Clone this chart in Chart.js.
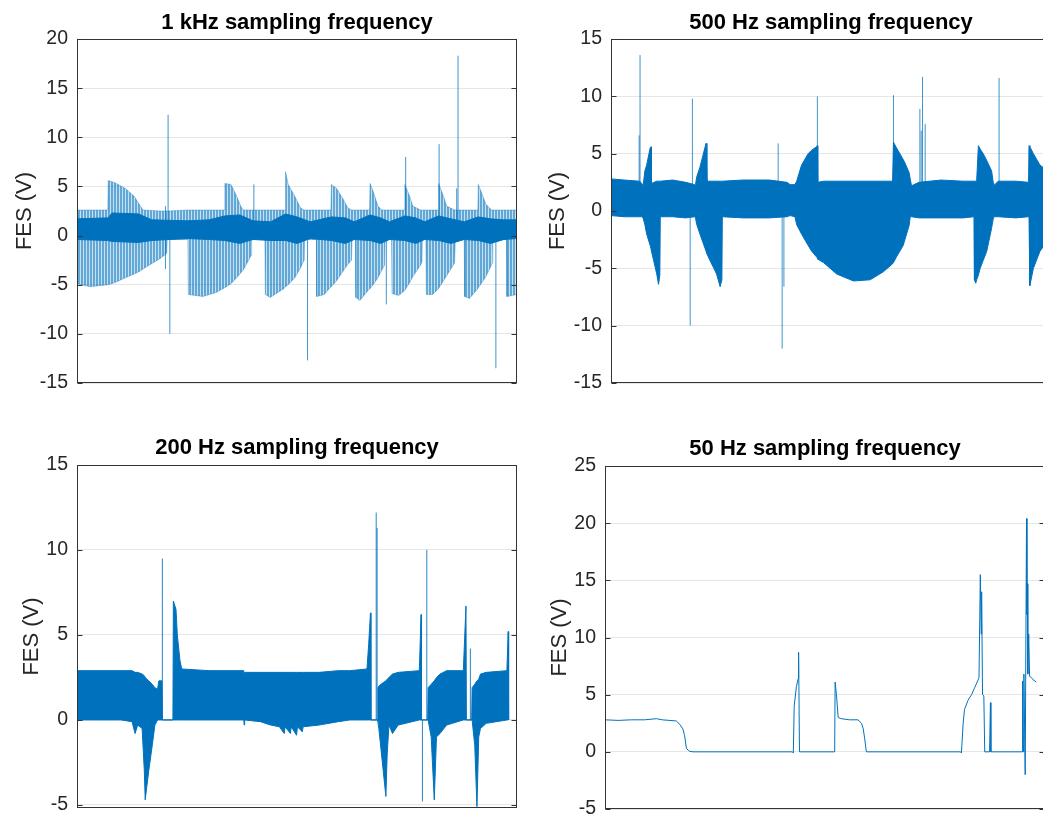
<!DOCTYPE html>
<html>
<head>
<meta charset="utf-8">
<script src="https://cdn.jsdelivr.net/npm/chart.js@4.4.1/dist/chart.umd.min.js"></script>
<style>
html,body{margin:0;padding:0;background:#fff;overflow:hidden;}
#wrap{position:relative;width:1043px;height:816px;overflow:hidden;background:#fff;}
canvas{position:absolute;}
</style>
</head>
<body>
<div id="wrap">
<canvas id="c1" width="530" height="400" style="left:0px;top:0px;width:530px;height:400px"></canvas>
<canvas id="c2" width="530" height="400" style="left:534px;top:0px;width:530px;height:400px"></canvas>
<canvas id="c3" width="530" height="400" style="left:0px;top:420px;width:530px;height:400px"></canvas>
<canvas id="c4" width="530" height="400" style="left:528px;top:420px;width:530px;height:400px"></canvas>
</div>
<script>
// ---------- titles & ticks ----------
const titles = ['1 kHz sampling frequency','500 Hz sampling frequency','200 Hz sampling frequency','50 Hz sampling frequency'];
const yLabel = 'FES (V)';
const tlTicks = [-15,-10,-5,0,5,10,15,20];
const trTicks = [-15,-10,-5,0,5,10,15];
const blTicks = [-5,0,5,10,15];
const brTicks = [-5,0,5,10,15,20,25];

// ---------- 1 kHz (top-left): light striped envelope ----------
const tlLightX  = [0,3,7.0,7.1,8.5,11,13,14.4,15,19,20.4,20.5,25.2,25.3,28.6,31.6,33.5,33.6,35,36.3,37.2,37.8,39.6,39.7,42.7,42.8,43.9,47.0,47.3,47.4,48,49.5,50.8,51.6,51.7,54.4,54.5,56.2,57.7,57.8,59,60.5,61.6,62.4,62.5,63.3,63.4,64.3,66.5,66.6,67.3,68.4,69.3,69.9,70.0,71.5,71.6,73.1,74.4,74.5,75.6,76.3,78.1,78.4,78.5,79.3,79.4,80.8,82.1,82.2,83.3,84.0,85.8,86.0,88.0,88.1,89.2,91.1,91.2,92.0,92.9,94.2,94.4,94.5,97.6,97.7,100];
const tlLightHi = [2.6,2.6,2.6,5.6,5.4,4.8,4.0,3.0,2.6,2.5,2.5,2.5,2.6,2.6,2.6,2.6,2.6,5.3,5.2,4.0,3.0,2.6,2.6,2.6,2.6,2.6,2.6,2.6,2.6,6.5,5.2,4.0,2.8,2.6,2.6,2.6,2.6,2.6,2.6,5.2,4.8,3.7,2.8,2.6,2.6,2.6,2.6,2.6,2.6,5.3,4.5,3.0,2.6,2.6,2.6,2.6,2.6,2.6,2.6,5.2,4.0,3.0,2.6,2.6,2.6,2.6,2.6,2.6,2.6,5.3,4.0,3.0,2.6,2.6,2.6,2.6,2.6,2.6,5.2,4.3,3.2,2.6,2.6,2.6,2.6,2.6,2.6];
const tlLightLo = [-4.9,-5.2,-5.0,-5.0,-4.8,-4.3,-3.9,-3.6,-3.4,-2.3,-1.8,-0.4,-0.4,-6.0,-6.2,-5.8,-5.3,-5.3,-4.9,-4.3,-3.8,-3.5,-2.0,-0.4,-0.4,-6.0,-6.3,-5.4,-5.2,-5.2,-5.0,-4.3,-3.3,-2.5,-0.4,-0.4,-6.2,-6.0,-5.2,-5.2,-4.6,-3.6,-2.9,-2.5,-0.4,-0.4,-6.3,-6.6,-5.4,-5.4,-5.0,-4.3,-3.5,-3.0,-0.4,-0.4,-5.9,-6.1,-5.6,-5.6,-4.8,-4.2,-3.0,-2.7,-0.4,-0.4,-6.0,-6.0,-5.4,-5.4,-4.6,-4.1,-2.8,-0.4,-0.4,-6.2,-6.4,-5.4,-5.3,-4.8,-4.2,-3.0,-2.8,-0.4,-0.4,-6.2,-6.0];
// dark core band
const tlDarkX  = [0,7,8,14,17,25,30,33.6,37,40,44,47.4,50,53,57.8,61,63,66.6,69,71,74.5,77,79,82.2,85,88,91.2,94,97,100];
const tlDarkHi = [1.7,1.8,2.3,2.2,1.6,1.5,1.6,2.0,2.1,1.5,1.4,2.2,1.9,1.4,1.9,1.8,1.4,2.1,1.8,1.4,2.0,1.8,1.4,2.0,1.7,1.4,1.9,1.7,1.6,1.6];
const tlDarkLo = [-0.4,-0.5,-0.6,-0.7,-0.5,-0.3,-0.4,-0.5,-0.8,-0.4,-0.5,-0.5,-0.8,-0.3,-0.5,-0.8,-0.4,-0.5,-0.8,-0.4,-0.5,-0.8,-0.4,-0.5,-0.8,-0.4,-0.5,-0.8,-0.4,-0.3];
// isolated spikes
const tlSpikeX   = [20.1,20.7,21.1,40.2,52.4,70.3,74.7,82.3,86.3,86.6,95.2];
const tlSpikeTop = [3.0,12.3,0,5.2,0,0,8.0,9.3,4.8,18.3,0];
const tlSpikeBot = [-3.4,0,-10.0,0,-12.7,-7.0,0,0,0,0,-13.5];

// ---------- 500 Hz (top-right) ----------
const trBandX  = [0,3,6.5,7.0,7.3,7.7,8.1,8.9,9.1,9.2,10.4,10.8,11.1,11.2,14,17,19.0,19.2,19.5,20.2,21.6,21.8,22.1,24.0,24.8,25.2,25.3,30,36,40.0,40.7,41.8,42.2,43.3,44.8,45.6,46.7,46.9,47.0,48.3,51.3,55.1,58.9,61.9,64.0,64.2,64.9,66.4,66.8,67.8,68.0,68.3,70,75,80,82.5,82.6,82.9,83.1,83.5,83.9,84.6,85.4,86.5,86.9,87.0,88,92,94.9,95.0,95.2,96.0,97.5,100];
const trBandHi = [2.8,2.7,2.6,2.4,2.2,3.5,4.0,5.5,5.6,2.4,2.6,2.6,2.6,2.6,2.7,2.5,2.3,2.3,3.0,3.8,5.9,2.7,2.6,2.6,2.6,2.6,2.6,2.7,2.7,2.5,2.3,2.3,2.6,4.0,5.0,5.3,5.6,5.7,2.5,2.6,2.6,2.6,2.6,2.6,2.6,6.0,5.5,4.5,4.2,3.3,2.8,2.2,2.5,2.7,2.6,2.6,2.6,2.6,2.6,5.7,5.4,5.0,4.4,3.5,2.4,2.2,2.6,2.6,2.5,5.7,5.6,5.0,4.0,3.3];
const trBandLo = [-0.4,-0.5,-0.5,-0.5,-0.6,-1.2,-2.0,-3.0,-3.3,-3.5,-5.5,-6.4,-5.6,-0.5,-0.5,-0.6,-0.5,-0.6,-1.2,-2.0,-3.5,-3.7,-4.0,-5.5,-6.6,-6.0,-0.5,-0.6,-0.6,-0.5,-0.4,-0.5,-1.2,-2.0,-3.0,-3.5,-4.0,-4.1,-4.2,-4.5,-5.5,-6.1,-6.0,-5.3,-4.6,-4.5,-4.0,-3.0,-2.5,-1.2,-0.5,-0.5,-0.6,-0.6,-0.6,-0.5,-6.0,-6.3,-6.0,-5.6,-5.0,-4.3,-3.5,-1.5,-0.6,-0.5,-0.5,-0.6,-0.5,-0.5,-6.5,-5.0,-3.5,-2.2];
const trSpikeX   = [6.4,6.6,18.0,18.5,38.0,38.9,39.3,46.9,64.2,70.2,70.5,70.8,71.4,88.2];
const trSpikeTop = [6.6,13.6,0,9.8,5.9,0,0,10.0,10.1,8.9,7.0,11.7,7.6,11.6];
const trSpikeBot = [0,0,-10.0,0,0,-12.0,-6.6,0,0,0,0,0,0,0];

// ---------- 200 Hz (bottom-left) ----------
const blBandX  = [0,5,10,12.5,13.2,13.8,14.8,15.3,15.5,16.3,17.1,17.7,18.3,18.6,19.3,19.4,21.8,21.9,22.5,22.8,23.4,23.8,30,37.9,38.0,38.1,41.7,44,46,47.1,47.3,48.5,48.7,49.9,50.1,51.2,51.4,55,59.4,62,65.9,66.3,66.7,66.8,68.3,68.4,68.6,69.6,70.2,70.5,70.9,71.7,73,77.8,78.2,78.3,79.7,79.8,80.5,81.2,81.7,82.5,84.0,87.8,88.4,88.5,89.7,89.8,90.4,90.9,91.3,91.7,93,97.7,98.0,98.1];
const blBandHi = [2.9,2.9,2.9,2.9,2.8,2.8,2.7,2.6,2.5,2.3,2.1,1.9,1.8,2.3,2.3,0,0,7.0,6.5,5.0,3.5,3.0,2.9,2.9,2.6,2.8,2.8,2.8,2.8,2.8,2.8,2.8,2.8,2.8,2.8,2.8,2.8,2.8,2.9,2.9,3.0,4.5,6.3,0,0,1.9,2.0,2.2,2.3,2.4,2.5,2.7,2.8,2.9,6.2,0,0,1.9,2.1,2.3,2.5,2.7,2.9,2.9,6.7,0,0,1.9,2.1,2.3,2.4,2.7,2.8,2.9,5.2,0];
const blBandLo = [0,0,0,-0.1,-0.8,-0.3,-0.5,-3.0,-4.7,-3.0,-1.5,-0.3,0,0,0,0,0,0,0,0,0,0,0,0,-0.3,0,-0.1,-0.3,-0.4,-0.8,-0.4,-0.8,-0.4,-0.9,-0.4,-0.7,-0.4,-0.3,-0.1,0,0,0,0,0,0,0,-0.5,-3.0,-4.5,-2.0,-0.3,-0.8,-0.3,0,0,0,0,0,-1.0,-4.7,-1.0,-0.8,-0.3,0,0,0,0,0,-1.5,-5.1,-1.0,-0.5,-0.2,0,0,0];
const blSpikeX   = [19.4,68.0,68.2,78.5,79.5,89.4];
const blSpikeTop = [9.5,12.2,11.3,0,10.0,4.2];
const blSpikeBot = [0,0,0,-4.8,0,0];

// ---------- 50 Hz (bottom-right) ----------
const brX = [0,3,6,9,11.7,13,16.2,17.0,17.7,18.1,18.5,18.9,19.2,20.0,42.6,42.8,43.0,43.5,43.9,44.0,44.2,52.2,52.3,52.6,53.0,53.7,55.6,57.5,58.3,58.7,59.0,59.4,80.8,81.0,81.4,81.7,82.5,83.3,84.0,84.8,85.0,85.3,85.5,85.6,85.8,86.1,86.3,87.4,87.6,87.7,94.8,94.9,95.1,95.2,95.5,95.8,95.9,96.0,96.1,96.3,96.5,96.9,97.3,97.7,98.0];
const brY = [2.8,2.75,2.8,2.8,2.9,2.8,2.7,2.4,2.0,1.4,0.3,0.15,0.05,0,0,-0.1,4.0,5.7,6.4,8.7,0,0,6.1,5.0,3.0,2.9,2.8,2.8,2.5,2.0,1.2,0,0,-0.1,2.5,3.7,4.5,5.0,5.6,6.3,6.5,15.5,10.3,14.0,5.0,4.9,0,0,4.3,0,0,6.2,0,6.8,-2.0,20.4,12.0,14.7,6.8,10.3,6.6,6.5,6.3,6.2,6.1];

// ---------- helpers ----------
const BLUE = '#0072BD';
const FONT = '"Liberation Sans", Arial, Helvetica, sans-serif';
function pts(xs, ys){ return xs.map((x,i)=>({x:x, y:ys[i]})); }
function spikePts(xs, tops, bots){
  const out = [];
  xs.forEach((x,i)=>{ out.push({x:x,y:bots[i]},{x:x,y:tops[i]},{x:x,y:null}); });
  return out;
}
function stripePattern(ctx){
  const c = document.createElement('canvas'); c.width = 3; c.height = 1;
  const g = c.getContext('2d');
  g.fillStyle = 'rgba(0,114,189,0.62)'; g.fillRect(0,0,2,1);
  g.fillStyle = 'rgba(0,114,189,0.22)'; g.fillRect(2,0,1,1);
  return ctx.createPattern(c,'repeat');
}
const framePlugin = {
  id: 'frame',
  afterDraw(chart){
    const {ctx, chartArea:a} = chart; const y = chart.scales.y;
    ctx.save();
    ctx.strokeStyle = '#333'; ctx.lineWidth = 1;
    const L = Math.round(a.left)+0.5, R = Math.round(a.right)-0.5, T = Math.round(a.top)+0.5, B = Math.round(a.bottom)-0.5;
    ctx.strokeRect(L, T, R-L, B-T);
    ctx.beginPath();
    y.ticks.forEach(t=>{
      const py = Math.round(y.getPixelForValue(t.value))+0.5;
      ctx.moveTo(L,py); ctx.lineTo(L+5,py);
      ctx.moveTo(R,py); ctx.lineTo(R-5,py);
    });
    ctx.stroke();
    ctx.restore();
  }
};
function makeChart(id, cfg){
  return new Chart(document.getElementById(id), {
    type: 'line',
    data: { datasets: cfg.datasets },
    options: {
      responsive: false, animation: false, devicePixelRatio: 1,
      layout: { padding: cfg.padding },
      elements: { point: { radius: 0, hoverRadius: 0 }, line: { tension: 0 } },
      plugins: {
        legend: { display: false }, tooltip: { enabled: false },
        title: { display: true, text: cfg.title, fullSize: false, color: '#000',
                 font: { family: FONT, size: 22, weight: 'bold', lineHeight: 1.2 },
                 padding: cfg.titlePad }
      },
      scales: {
        x: { type: 'linear', min: 0, max: 100, display: false },
        y: { type: 'linear', min: cfg.ymin, max: cfg.ymax,
             afterBuildTicks: s => { s.ticks = cfg.ticks.map(v => ({ value: v })); },
             afterFit: s => { s.width = 77; s.paddingTop = 0; s.paddingBottom = 0; },
             grid: { color: '#e6e6e6', drawTicks: false, lineWidth: 1 },
             border: { display: false },
             ticks: { color: '#262626', padding: 9, autoSkip: false, font: { family: FONT, size: 19.5 } },
             title: { display: true, text: yLabel, color: '#262626',
                      font: { family: FONT, size: 22, lineHeight: 1.2 },
                      padding: { top: cfg.ylabPad, bottom: 0 } } }
      }
    },
    plugins: [framePlugin]
  });
}
function spikeSet(xs, tops, bots, color){
  return { data: spikePts(xs, tops, bots), borderColor: color, borderWidth: 1, fill: false, spanGaps: false, order: 0 };
}

// ---------- top-left ----------
const pat = stripePattern(document.getElementById('c1').getContext('2d'));
makeChart('c1', {
  title: titles[0], ticks: tlTicks, ymin: -15, ymax: 20,
  padding: { left: 0, right: 13, top: 0, bottom: 17 },
  titlePad: { top: 9.5, bottom: 3.1 }, ylabPad: 11.3,
  datasets: [
    { data: pts(tlLightX, tlLightLo), borderColor: 'rgba(0,114,189,0.35)', borderWidth: 1, fill: false, order: 3 },
    { data: pts(tlLightX, tlLightHi), borderColor: 'rgba(0,114,189,0.35)', borderWidth: 1, fill: '-1', backgroundColor: pat, order: 3 },
    { data: pts(tlDarkX, tlDarkLo), borderColor: BLUE, borderWidth: 1, fill: false, order: 2 },
    { data: pts(tlDarkX, tlDarkHi), borderColor: BLUE, borderWidth: 1, fill: '-1', backgroundColor: BLUE, order: 2 },
    spikeSet(tlSpikeX, tlSpikeTop, tlSpikeBot, 'rgba(0,114,189,0.75)')
  ]
});
// ---------- top-right ----------
makeChart('c2', {
  title: titles[1], ticks: trTicks, ymin: -15, ymax: 15,
  padding: { left: 0, right: 13, top: 0, bottom: 17 },
  titlePad: { top: 9.3, bottom: 3.3 }, ylabPad: 10.3,
  datasets: [
    { data: pts(trBandX, trBandLo), borderColor: BLUE, borderWidth: 1, fill: false, order: 2 },
    { data: pts(trBandX, trBandHi), borderColor: BLUE, borderWidth: 1, fill: '-1', backgroundColor: BLUE, order: 2 },
    spikeSet(trSpikeX, trSpikeTop, trSpikeBot, 'rgba(0,114,189,0.75)')
  ]
});
// ---------- bottom-left ----------
makeChart('c3', {
  title: titles[2], ticks: blTicks, ymin: -5.18, ymax: 15,
  padding: { left: 0, right: 13, top: 0, bottom: 12 },
  titlePad: { top: 14.8, bottom: 3.8 }, ylabPad: 18.8,
  datasets: [
    { data: pts(blBandX, blBandLo), borderColor: BLUE, borderWidth: 1, fill: false, order: 2 },
    { data: pts(blBandX, blBandHi), borderColor: BLUE, borderWidth: 1, fill: '-1', backgroundColor: BLUE, order: 2 },
    spikeSet(blSpikeX, blSpikeTop, blSpikeBot, 'rgba(0,114,189,0.85)')
  ]
});
// ---------- bottom-right ----------
makeChart('c4', {
  title: titles[3], ticks: brTicks, ymin: -5, ymax: 25,
  padding: { left: 0, right: 13, top: 0, bottom: 11 },
  titlePad: { top: 15.8, bottom: 3.8 }, ylabPad: 18.8,
  datasets: [
    { data: pts(brX, brY), borderColor: BLUE, borderWidth: 1, fill: false, order: 1 }
  ]
});
</script>
</body>
</html>
